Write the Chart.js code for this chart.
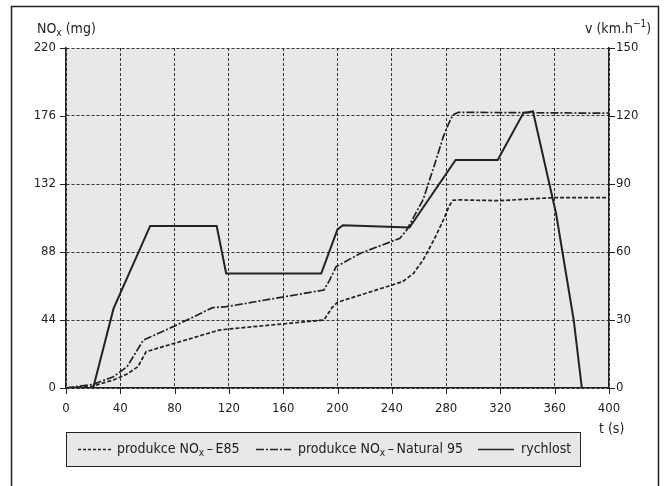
<!DOCTYPE html>
<html>
<head>
<meta charset="utf-8">
<script src="https://cdn.jsdelivr.net/npm/chart.js@4/dist/chart.umd.min.js"></script>
<style>
    body { margin: 0; background: #fff; }
    #wrap { width: 664px; height: 486px; }
</style>
</head>
<body>
<div id="wrap"><canvas id="myChart" width="664" height="486"></canvas></div>
<script>
    // NOx production, E85
    const tE85 = [0, 20, 35, 45, 53, 59, 113, 118, 190, 193, 196, 200, 248, 256, 263, 271, 278, 282, 285, 290, 320, 345, 360, 400];
    const noxE85 = [0, 1.3, 5.2, 9, 13.8, 23.5, 37.5, 38, 44, 48, 52, 55.5, 68.8, 74.2, 82.8, 95.8, 108.7, 117.3, 121.5, 121.7, 121.2, 122.5, 123.2, 123.2];

    // NOx production, Natural 95
    const tN95 = [0, 20, 35, 45, 57, 79, 108, 118, 190, 194, 199, 217, 246, 251, 263, 271, 278, 282, 285, 289, 400];
    const noxN95 = [0, 2.4, 7.3, 13.8, 31, 39.7, 52, 52.6, 63.4, 69.5, 78.5, 87.2, 96.9, 102.3, 121.7, 143.2, 162.7, 171.3, 176.7, 178.4, 177.8];

    // rychlost (km/h)
    const tSpeed = [0, 20, 35, 62, 111, 118, 188, 200, 204, 253, 287, 318, 337, 344, 361, 374, 380, 400];
    const speed = [0, 0, 35, 71.5, 71.5, 50.5, 50.5, 70, 71.8, 70.8, 100.6, 100.6, 121.4, 122, 77, 30, 0, 0];

    const xTicks = [0, 40, 80, 120, 160, 200, 240, 280, 320, 360, 400];
    const noxTicks = [0, 44, 88, 132, 176, 220];
    const speedTicks = [0, 30, 60, 90, 120, 150];

    const FONT = '"Liberation Sans Narrow", "DejaVu Sans Condensed", "Liberation Sans", sans-serif';
    const INK = '#222';

    const toPoints = (xs, ys) => xs.map((x, i) => ({x: x, y: ys[i]}));

    // text with sub/superscript parts
    function drawRich(ctx, parts, x, y, size) {
        let cx = x;
        parts.forEach(p => {
            const s = p.sub || p.sup ? size * 0.72 : size;
            ctx.font = s + 'px ' + FONT;
            const dy = p.sub ? size * 0.3 : (p.sup ? -size * 0.32 : 0);
            ctx.fillText(p.t, cx, y + dy);
            cx += ctx.measureText(p.t).width;
        });
        return cx;
    }

    const decor = {
        id: 'decor',
        beforeDraw(chart) {
            const {ctx, chartArea: a} = chart;
            ctx.save();
            ctx.fillStyle = '#e8e8e8';
            ctx.fillRect(a.left, a.top, a.right - a.left, a.bottom - a.top);
            ctx.restore();
        },
        afterDraw(chart) {
            const {ctx, chartArea: a, scales} = chart;
            ctx.save();
            ctx.strokeStyle = INK;
            ctx.fillStyle = INK;

            // outer frame
            ctx.lineWidth = 1.5;
            ctx.beginPath();
            ctx.moveTo(11.5, 486);
            ctx.lineTo(11.5, 6.5);
            ctx.lineTo(658.5, 6.5);
            ctx.lineTo(658.5, 486);
            ctx.stroke();

            // tick marks
            ctx.lineWidth = 1;
            ctx.beginPath();
            noxTicks.forEach(v => {
                const y = Math.round(scales.y.getPixelForValue(v)) + 0.5;
                ctx.moveTo(a.left - 6, y);
                ctx.lineTo(a.left, y);
            });
            speedTicks.forEach(v => {
                const y = Math.round(scales.y2.getPixelForValue(v)) + 0.5;
                ctx.moveTo(a.right, y);
                ctx.lineTo(a.right + 6, y);
            });
            xTicks.forEach(v => {
                const x = Math.round(scales.x.getPixelForValue(v)) + 0.5;
                ctx.moveTo(x, a.bottom);
                ctx.lineTo(x, a.bottom + 6);
            });
            ctx.stroke();

            // axis titles
            ctx.textBaseline = 'middle';
            ctx.textAlign = 'left';
            drawRich(ctx, [{t: 'NO'}, {t: 'x', sub: true}, {t: ' (mg)'}], 37, 29, 14);
            drawRich(ctx, [{t: 'v (km.h'}, {t: '\u22121', sup: true}, {t: ')'}], 585, 29, 14);
            drawRich(ctx, [{t: 't (s)'}], 599, 429, 14);

            // legend
            const ly = 449.5;
            ctx.fillStyle = '#e8e8e8';
            ctx.fillRect(66.5, 432.5, 514, 34);
            ctx.lineWidth = 1;
            ctx.strokeRect(66.5, 432.5, 514, 34);
            ctx.fillStyle = INK;
            const samples = [
                {x1: 78, x2: 112, dash: [3, 2], tx: 117, parts: [{t: 'produkce NO'}, {t: 'x', sub: true}, {t: '\u2009\u2013\u2009E85'}]},
                {x1: 256, x2: 291, dash: [8, 2, 2, 2], tx: 298, parts: [{t: 'produkce NO'}, {t: 'x', sub: true}, {t: '\u2009\u2013\u2009Natural 95'}]},
                {x1: 478, x2: 514, dash: [], tx: 521, parts: [{t: 'rychlost'}]}
            ];
            samples.forEach(s => {
                ctx.lineWidth = 1.7;
                ctx.setLineDash(s.dash);
                ctx.beginPath();
                ctx.moveTo(s.x1, ly);
                ctx.lineTo(s.x2, ly);
                ctx.stroke();
                ctx.setLineDash([]);
                drawRich(ctx, s.parts, s.tx, ly, 14);
            });
            ctx.restore();
        }
    };

    const lineStyle = {
        borderColor: INK,
        borderWidth: 1.7,
        pointRadius: 0,
        tension: 0,
        fill: false
    };

    const config = {
        type: 'line',
        data: {
            datasets: [
                Object.assign({label: 'produkce NOx – E85', data: toPoints(tE85, noxE85), yAxisID: 'y', borderDash: [4, 2]}, lineStyle),
                Object.assign({label: 'produkce NOx – Natural 95', data: toPoints(tN95, noxN95), yAxisID: 'y', borderDash: [8, 2, 2, 2]}, lineStyle),
                Object.assign({label: 'rychlost', data: toPoints(tSpeed, speed), yAxisID: 'y2'}, lineStyle, {borderWidth: 2})
            ]
        },
        options: {
            responsive: false,
            animation: false,
            layout: {padding: {left: 0, right: 0, top: 48, bottom: 58}},
            plugins: {
                legend: {display: false},
                tooltip: {enabled: false}
            },
            scales: {
                x: {
                    type: 'linear',
                    min: 0,
                    max: 400,
                    afterFit: s => { s.height = 40; },
                    afterBuildTicks: s => { s.ticks = xTicks.map(v => ({value: v})); },
                    ticks: {color: INK, font: {family: FONT, size: 13}, padding: 13, maxRotation: 0},
                    grid: {color: '#333', lineWidth: 1, drawTicks: false},
                    border: {color: INK, width: 1.5, dash: [3, 2]}
                },
                y: {
                    position: 'left',
                    min: 0,
                    max: 220,
                    afterFit: s => { s.width = 66; },
                    afterBuildTicks: s => { s.ticks = noxTicks.map(v => ({value: v})); },
                    ticks: {color: INK, font: {family: FONT, size: 13}, padding: 10},
                    grid: {color: '#333', lineWidth: 1, drawTicks: false},
                    border: {color: INK, width: 1.5, dash: [3, 2]}
                },
                y2: {
                    position: 'right',
                    min: 0,
                    max: 150,
                    afterFit: s => { s.width = 55; },
                    afterBuildTicks: s => { s.ticks = speedTicks.map(v => ({value: v})); },
                    ticks: {color: INK, font: {family: FONT, size: 13}, padding: 7},
                    grid: {drawOnChartArea: false, drawTicks: false},
                    border: {color: INK, width: 1.5}
                }
            }
        },
        plugins: [decor]
    };

    this.chart = new Chart(document.getElementById('myChart'), config);
</script>
</body>
</html>
